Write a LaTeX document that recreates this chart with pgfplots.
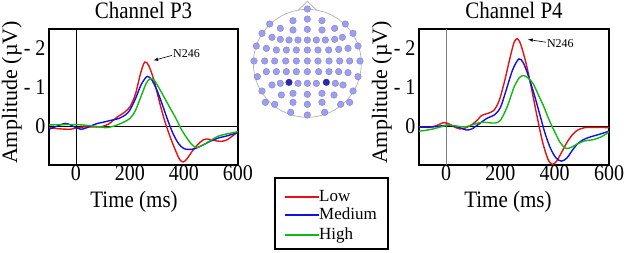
\documentclass[border=0pt]{standalone}
\usepackage{fontspec}
\setmainfont{Liberation Serif}
\usepackage{pgfplots}
\pgfplotsset{compat=1.18}
\definecolor{cred}{RGB}{232,16,16}
\definecolor{cblue}{RGB}{16,16,232}
\definecolor{cgreen}{RGB}{16,184,16}
\definecolor{elec}{RGB}{158,158,240}
\definecolor{elecedge}{RGB}{120,120,190}
\definecolor{elecdark}{RGB}{40,40,180}
\newcommand{\ttl}{\fontsize{21}{23}\selectfont}
\newcommand{\lbx}{\fontsize{21}{23}\selectfont}
\newcommand{\lby}{\fontsize{22}{24}\selectfont}
\newcommand{\lgd}{\fontsize{17}{19}\selectfont}

\pgfplotsset{erp/.style={
  scale only axis, width=189pt, height=136pt,
  xmin=-100, xmax=600, ymin=-2.5, ymax=1, y dir=reverse,
  xtick={0,200,400,600}, ytick={-2,-1,0}, yticklabels={- 2,- 1,0},
  axis line style={line width=1.2pt}, major tick length=0pt,
  /pgf/number format/assume math mode=true,
  tick label style={font=\fontsize{20}{22}\selectfont, yscale=1.12},
  xticklabel style={yshift=3pt},
  title style={at={(axis description cs:0.5,1.092)}, anchor=center, yscale=1.12},
  xlabel style={anchor=center, yscale=1.12},
  ylabel style={at={(axis description cs:-0.196,0.533)}, anchor=center},
  every axis plot/.append style={line width=1.4pt, smooth},
}}

\begin{document}
\begin{tikzpicture}

% ---------- Left: Channel P3 ----------
\begin{axis}[erp, at={(49pt,88pt)}, anchor=south west,
  title={\ttl Channel P3}, xlabel={\lbx Time (ms)}, ylabel={\lby Amplitude (\textmu V)},
  xlabel style={at={(axis description cs:0.45,-0.27)}}]
\draw[line width=0.8pt] (axis cs:-100,0) -- (axis cs:600,0);
\draw[line width=0.8pt] (axis cs:0,-2.5) -- (axis cs:0,1);
\addplot[cred] coordinates {(-100,0.04)(-60,0.07)(-20,0.08)(0,0.05)(30,0.02)(60,0.02)(90,0.02)(120,-0.05)(150,-0.22)(180,-0.36)(200,-0.5)(220,-0.82)(240,-1.38)(255,-1.65)(270,-1.55)(290,-1.15)(310,-0.6)(330,-0.1)(350,0.3)(370,0.65)(385,0.87)(398,0.92)(410,0.85)(430,0.65)(450,0.48)(470,0.36)(485,0.33)(500,0.35)(520,0.38)(540,0.39)(560,0.35)(580,0.25)(600,0.15)};
\addplot[cblue] coordinates {(-100,0.08)(-70,0.0)(-40,-0.07)(-20,-0.03)(0,0.04)(20,0.08)(40,0.04)(60,-0.02)(80,-0.07)(100,-0.1)(130,-0.15)(160,-0.2)(185,-0.3)(200,-0.42)(220,-0.7)(240,-1.05)(255,-1.22)(265,-1.28)(280,-1.2)(300,-0.92)(320,-0.55)(340,-0.15)(360,0.2)(380,0.45)(400,0.58)(420,0.6)(440,0.58)(460,0.52)(480,0.45)(500,0.38)(530,0.3)(560,0.25)(600,0.16)};
\addplot[cgreen] coordinates {(-100,-0.03)(-50,-0.04)(0,-0.04)(40,-0.02)(80,0.01)(110,0.04)(140,0.0)(170,-0.08)(200,-0.2)(220,-0.4)(240,-0.75)(260,-1.1)(275,-1.22)(290,-1.18)(310,-0.95)(330,-0.7)(350,-0.45)(370,-0.2)(390,0.08)(410,0.3)(430,0.48)(445,0.55)(460,0.52)(480,0.45)(500,0.36)(530,0.25)(560,0.2)(600,0.14)};
\node[font=\fontsize{12}{14}\selectfont, anchor=west, inner sep=0pt] at (axis cs:359,-1.87) {N246};
\draw[-latex, line width=0.6pt] (axis cs:355,-1.82) -- (axis cs:287,-1.69);
\end{axis}

% ---------- Right: Channel P4 ----------
\begin{axis}[erp, at={(419pt,88pt)}, anchor=south west, width=190pt,
  title={\ttl Channel P4}, xlabel={\lbx Time (ms)}, ylabel={\lby Amplitude (\textmu V)},
  xlabel style={at={(axis description cs:0.468,-0.27)}}]
\draw[line width=0.8pt] (axis cs:-100,0) -- (axis cs:600,0);
\draw[line width=1pt, gray] (axis cs:0,-2.5) -- (axis cs:0,1);
\addplot[cred] coordinates {(-100,0.02)(-60,0.03)(-30,-0.03)(-10,-0.09)(10,-0.06)(30,0.02)(50,0.07)(70,0.05)(90,-0.02)(110,-0.12)(130,-0.27)(150,-0.32)(175,-0.4)(195,-0.65)(215,-1.15)(235,-1.75)(250,-2.15)(262,-2.25)(275,-2.1)(295,-1.6)(315,-0.95)(335,-0.25)(355,0.4)(375,0.85)(390,0.98)(405,0.92)(425,0.68)(445,0.42)(465,0.22)(485,0.1)(510,0.04)(550,0.03)(600,0.04)};
\addplot[cblue] coordinates {(-100,0.03)(-50,0.02)(0,-0.02)(30,0.0)(55,0.05)(75,0.1)(95,0.07)(120,-0.05)(150,-0.2)(180,-0.3)(200,-0.48)(220,-0.9)(245,-1.45)(268,-1.73)(285,-1.62)(305,-1.25)(325,-0.8)(345,-0.3)(365,0.2)(385,0.58)(405,0.82)(425,0.9)(445,0.82)(465,0.62)(485,0.45)(505,0.35)(530,0.28)(560,0.22)(600,0.13)};
\addplot[cgreen] coordinates {(-100,0.13)(-60,0.09)(-20,0.02)(10,-0.03)(40,0.0)(70,0.02)(100,-0.04)(130,-0.1)(155,-0.09)(180,-0.08)(200,-0.15)(225,-0.5)(250,-1.0)(270,-1.25)(285,-1.3)(300,-1.25)(320,-1.1)(340,-0.8)(360,-0.5)(380,-0.15)(400,0.15)(420,0.42)(440,0.57)(460,0.55)(480,0.47)(510,0.38)(540,0.35)(570,0.28)(600,0.15)};
\node[font=\fontsize{12}{14}\selectfont, anchor=west, inner sep=0pt] at (axis cs:371,-2.13) {N246};
\draw[-latex, line width=0.6pt] (axis cs:367,-2.16) -- (axis cs:302,-2.23);
\end{axis}

% ---------- Head with electrodes ----------
\begin{axis}[at={(248pt,133pt)}, anchor=south west, scale only axis,
  width=112pt, height=120pt, xmin=0, xmax=336, ymin=0, ymax=360, y dir=reverse,
  hide axis, clip=false]
\draw[gray!60, line width=0.7pt] (axis cs:178,190) circle[radius=54pt];
\draw[gray!60, line width=0.7pt] (axis cs:150,31) -- (axis cs:178,4) -- (axis cs:206,31);
\addplot[only marks, mark=*, mark size=3.3pt, mark options={fill=elec, draw=elecedge, line width=0.3pt}] coordinates {
(178,27)
(135,62)(178,57)(222,62)
(65,72)(292,72)
(97,85)(135,90)(178,88)(222,90)(260,85)
(42,100)(315,100)
(72,112)(97,118)(123,120)(150,120)(178,120)(205,120)(232,120)(260,118)(283,112)
(25,138)(330,138)
(55,145)(85,150)(115,150)(145,150)(178,150)(210,150)(242,150)(272,148)(300,145)
(18,183)(50,183)(80,183)(113,183)(145,183)(178,183)(210,183)(243,183)(275,183)(305,183)(336,183)
(55,215)(85,215)(115,215)(145,215)(178,215)(212,215)(243,215)(272,215)(300,218)
(28,230)(330,230)
(72,255)(97,250)(150,250)(178,250)(205,250)(262,250)(285,255)
(42,273)(315,273)
(100,285)(135,280)(178,283)(222,280)(258,285)
(52,307)(80,313)(135,307)(178,313)(222,307)(278,313)(305,307)
(128,337)(178,345)(230,337)
};
\addplot[only marks, mark=*, mark size=3.3pt, mark options={fill=elecdark, draw=elecdark!80!black, line width=0.3pt}] coordinates {(123,247)(235,247)};
\end{axis}

% ---------- Legend (fixed box) ----------
\draw[line width=1.2pt] (275pt,4pt) rectangle (388pt,75pt);
\draw[cred, line width=1.5pt] (285pt,56pt) -- (319pt,56pt);
\draw[cblue, line width=1.5pt] (285pt,38pt) -- (319pt,38pt);
\draw[cgreen, line width=1.5pt] (285pt,18pt) -- (319pt,18pt);
\node[font=\lgd, anchor=base west, inner sep=0pt] at (319pt,51pt) {Low};
\node[font=\lgd, anchor=base west, inner sep=0pt] at (319pt,33pt) {Medium};
\node[font=\lgd, anchor=base west, inner sep=0pt] at (319pt,13pt) {High};

\pgfresetboundingbox
\path[use as bounding box] (0,0) rectangle (624pt,253pt);
\end{tikzpicture}
\end{document}
